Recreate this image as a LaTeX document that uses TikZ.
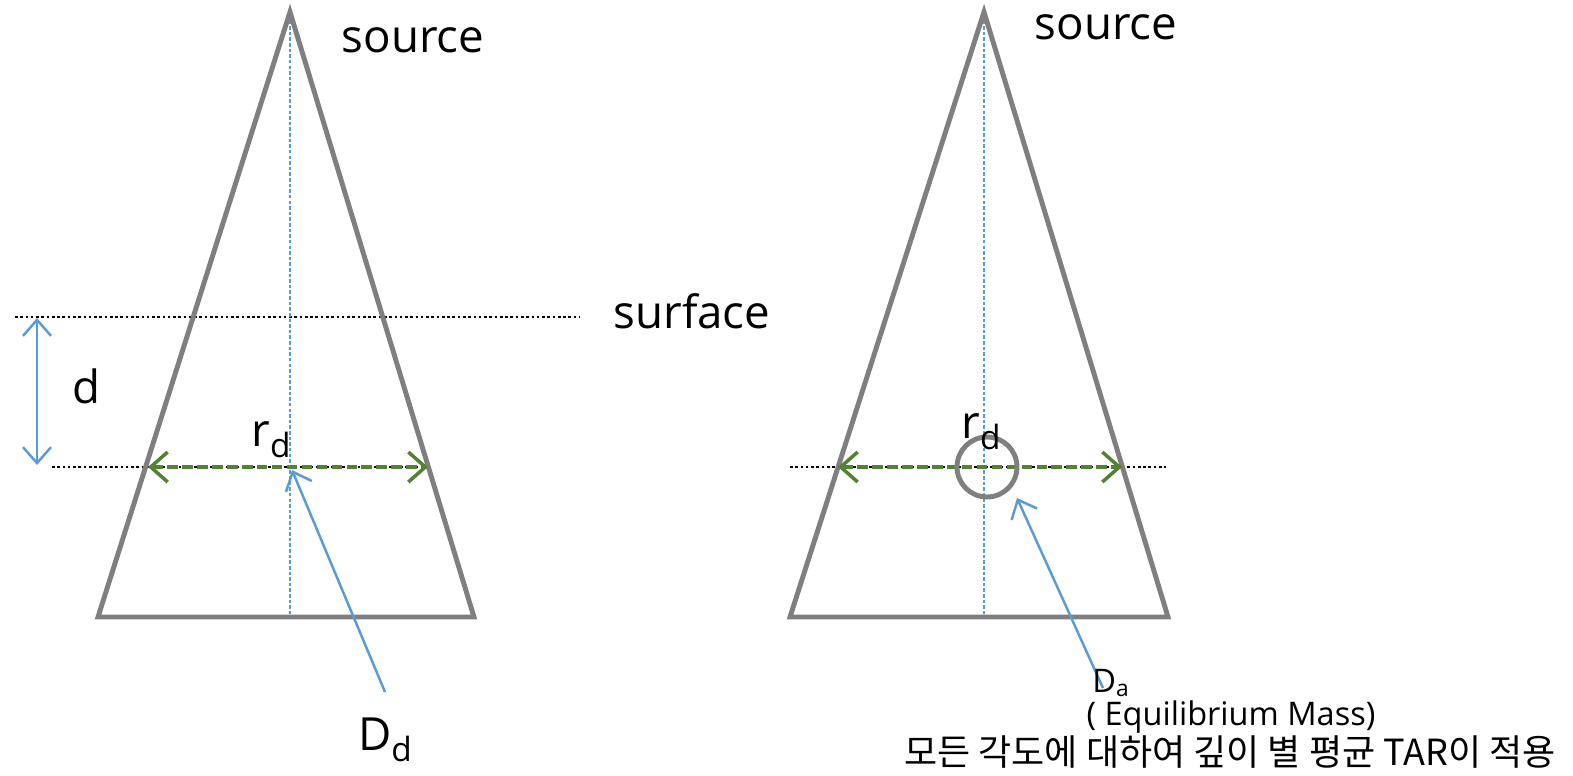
\documentclass[tikz,border=0pt]{standalone}
\usepackage{fontspec}
\setmainfont{Open Sans}
\newfontfamily\krfont{Noto Sans CJK KR}
\usepackage{xcolor}
\usepackage{tikz}
\usetikzlibrary{arrows.meta,positioning,calc}
\definecolor{Beam}{HTML}{7F7F7F}
\definecolor{Blue}{HTML}{5B9BD5}
\definecolor{Green}{HTML}{548235}
\newcommand{\lowsub}[1]{\raisebox{-0.45ex}{\fontsize{19}{22}\selectfont #1}}
\tikzset{
  beam/.style={draw=Beam,line width=2.8pt},
  axis/.style={draw=Blue,line width=0.7pt,dash pattern=on 2pt off 1.2pt},
  level/.style={draw=black,line width=0.7pt,dash pattern=on 1.5pt off 1.5pt},
  span/.style={draw=Green,line width=2pt,dash pattern=on 6pt off 2.5pt,{Straight Barb[length=3.4mm,width=6mm]}-{Straight Barb[length=3.4mm,width=6mm]}},
  pointer/.style={draw=Blue,line width=1.4pt,-{Straight Barb[length=3.2mm,width=5.6mm]}},
  twoway/.style={draw=Blue,line width=1.4pt,{Straight Barb[length=3.2mm,width=5.6mm]}-{Straight Barb[length=3.2mm,width=5.6mm]}},
  big/.style={font=\fontsize{26}{30}\selectfont,inner sep=0pt},
  small/.style={font=\fontsize{18.5}{22}\selectfont,inner sep=0pt,align=center}
}

\begin{document}
\begin{tikzpicture}[x=0.02cm,y=-0.02cm]
  \useasboundingbox (0,0) rectangle (1573,775);
  % left field: depth d below surface
  \coordinate (srcL) at (290,12);
  \draw[level] (15,317) -- (580,317);
  \draw[level] (52,467) -- (428,467);
  \draw[axis] (290,15) -- (290,617);
  \draw[beam] (srcL) -- (98,617) -- (474,617) -- cycle;
  \coordinate (dtop) at (37,318);
  \coordinate (dbot) at (37,465);
  \draw[twoway] (dtop) -- (dbot);
  \coordinate (rLa) at (148,467);
  \coordinate (rLb) at (428,467);
  \draw[span] (rLa) -- (rLb);
  \coordinate (ptL) at (292,470);
  \node[big] (Dd) at (385,740) {D\lowsub{d}};
  \coordinate (tailL) at (385,692);
  \draw[pointer] (tailL) -- (ptL);
  \node[big] (srcLlab) at (413,40) {source};
  \node[big] (surf) at (692,311) {surface};
  \node[big] (dlab) at (86,386) {d};
  \node[big] (rL) at (271,440) {r\lowsub{d}};
  % right field: phantom at depth
  \coordinate (srcR) at (984,12);
  \draw[level] (790,467) -- (1166,467);
  \draw[axis] (984,15) -- (984,617);
  \draw[beam] (srcR) -- (790,617) -- (1168,617) -- cycle;
  \coordinate (rRa) at (838,467);
  \coordinate (rRb) at (1122,467);
  \draw[span] (rRa) -- (rRb);
  \draw[beam] (987,467) circle (30);
  \node[big] (rR) at (981,432) {r\lowsub{d}};
  \coordinate (ptR) at (1017,498);
  \coordinate (tailR) at (1103,688);
  \draw[pointer] (tailR) -- (ptR);
  \node[small] (Da) at (1111,683) {D\textsubscript{a}};
  \node[small] (eq) at (1231,717) {( Equilibrium Mass)};
  \node[font=\fontsize{20.5}{24}\selectfont,inner sep=0pt] (kr) at (1230,752) {\krfont 모든 각도에 대하여 깊이 별 평균 TAR이 적용};
  \node[big] (srcRlab) at (1106,27) {source};
\end{tikzpicture}
\end{document}
